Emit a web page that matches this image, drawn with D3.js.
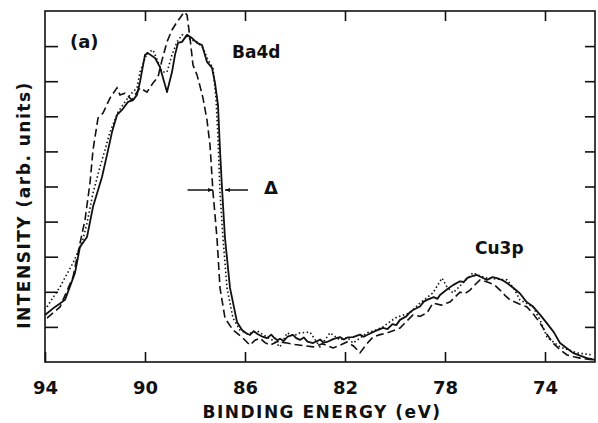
<!DOCTYPE html>
<html>
<head>
<meta charset="utf-8">
<script src="https://cdn.jsdelivr.net/npm/d3@7"></script>
<style>
  body { margin: 0; background: #fff; }
  text { font-family: "DejaVu Sans", "Liberation Sans", sans-serif; font-weight: bold; fill: #111; }
</style>
</head>
<body>
<div id="chart"></div>
<script>
// binding energy (eV) / intensity (arb. units, 0-10 frame divisions)
var solidE = [94.0, 93.6, 93.2, 92.8, 92.6, 92.32, 92.08, 91.72, 91.52, 91.32, 91.12, 90.92, 90.68, 90.48, 90.32, 90.2, 90.0, 89.88, 89.6, 89.4, 89.12, 88.92, 88.8, 88.68, 88.52, 88.32, 88.12, 87.92, 87.72, 87.52, 87.32, 87.2, 87.08, 87.0, 86.92, 86.8, 86.6, 86.32, 86.12, 85.95, 85.8, 85.65, 85.5, 85.3, 85.12, 84.95, 84.85, 84.7, 84.6, 84.45, 84.3, 84.08, 83.95, 83.8, 83.65, 83.5, 83.28, 83.1, 83.0, 82.85, 82.72, 82.45, 82.2, 82.05, 81.9, 81.68, 81.4, 81.25, 81.12, 80.8, 80.48, 80.3, 80.1, 79.95, 79.8, 79.55, 79.4, 79.28, 79.0, 78.85, 78.72, 78.45, 78.3, 78.2, 77.9, 77.68, 77.4, 77.25, 77.12, 76.9, 76.72, 76.5, 76.32, 76.1, 75.92, 75.7, 75.52, 75.25, 75.0, 74.75, 74.48, 74.2, 73.92, 73.65, 73.4, 73.1, 72.88, 72.6, 72.32, 72.0];
var solidI = [1.34, 1.57, 1.77, 2.54, 3.28, 3.56, 4.42, 5.27, 5.90, 6.55, 7.04, 7.18, 7.41, 7.46, 7.61, 7.98, 8.75, 8.80, 8.66, 8.40, 7.69, 8.26, 8.75, 9.09, 9.12, 9.32, 9.23, 9.09, 9.03, 8.55, 8.38, 7.95, 7.32, 6.04, 4.96, 3.53, 2.11, 1.14, 0.91, 0.82, 0.77, 0.88, 0.80, 0.72, 0.68, 0.78, 0.70, 0.62, 0.66, 0.60, 0.72, 0.77, 0.68, 0.63, 0.70, 0.58, 0.54, 0.60, 0.64, 0.55, 0.57, 0.66, 0.71, 0.64, 0.70, 0.71, 0.78, 0.72, 0.77, 0.88, 0.97, 0.94, 1.08, 1.05, 1.20, 1.30, 1.42, 1.48, 1.58, 1.72, 1.77, 1.85, 1.80, 1.91, 2.08, 2.19, 2.30, 2.28, 2.39, 2.45, 2.48, 2.40, 2.34, 2.42, 2.39, 2.33, 2.25, 2.10, 1.95, 1.72, 1.58, 1.35, 1.10, 0.85, 0.54, 0.38, 0.26, 0.18, 0.11, 0.06];

var dashE = [93.92, 93.4, 92.88, 92.68, 92.4, 92.2, 92.08, 91.88, 91.68, 91.4, 91.12, 91.0, 90.8, 90.52, 90.4, 90.2, 89.92, 89.68, 89.48, 89.32, 89.12, 88.92, 88.72, 88.6, 88.44, 88.32, 88.2, 88.08, 87.92, 87.8, 87.68, 87.52, 87.4, 87.28, 87.12, 87.0, 86.8, 86.48, 86.08, 85.8, 85.6, 85.4, 85.2, 85.0, 84.7, 84.32, 84.0, 83.6, 83.28, 82.9, 82.48, 82.2, 81.92, 81.65, 81.4, 81.15, 80.88, 80.6, 80.32, 80.05, 79.8, 79.55, 79.28, 79.0, 78.72, 78.48, 78.15, 77.8, 77.6, 77.4, 77.2, 77.0, 76.8, 76.6, 76.4, 76.2, 76.0, 75.8, 75.6, 75.4, 75.05, 74.72, 74.45, 74.2, 73.95, 73.68, 73.4, 73.12, 72.85, 72.6, 72.3, 72.0];
var dashI = [1.25, 1.57, 2.42, 3.11, 4.05, 5.10, 6.04, 6.95, 7.09, 7.52, 7.81, 7.61, 7.66, 7.46, 7.61, 7.81, 7.69, 7.95, 8.12, 8.60, 9.12, 9.46, 9.69, 9.80, 9.97, 9.89, 9.23, 8.46, 8.18, 7.86, 7.52, 6.89, 6.18, 4.84, 3.53, 2.11, 1.25, 0.91, 0.68, 0.48, 0.62, 0.68, 0.55, 0.48, 0.58, 0.54, 0.50, 0.46, 0.43, 0.52, 0.40, 0.48, 0.57, 0.45, 0.26, 0.50, 0.71, 0.78, 0.83, 0.90, 0.97, 1.15, 1.34, 1.30, 1.40, 1.68, 1.62, 1.71, 1.85, 1.99, 1.95, 2.05, 2.20, 2.34, 2.30, 2.25, 2.18, 2.05, 1.90, 1.77, 1.66, 1.57, 1.35, 1.11, 0.82, 0.54, 0.35, 0.20, 0.15, 0.11, 0.08, 0.06];

var dotE = [93.92, 93.4, 92.88, 92.52, 92.32, 92.08, 91.8, 91.6, 91.4, 91.08, 90.8, 90.6, 90.32, 90.2, 89.92, 89.68, 89.48, 89.32, 89.12, 88.92, 88.72, 88.52, 88.32, 88.12, 87.92, 87.68, 87.48, 87.28, 87.16, 87.08, 87.0, 86.88, 86.72, 86.48, 86.2, 85.9, 85.5, 85.12, 84.85, 84.6, 84.32, 84.05, 83.8, 83.4, 83.0, 82.6, 82.2, 81.9, 81.68, 81.4, 81.12, 80.8, 80.48, 80.2, 79.92, 79.4, 79.0, 78.48, 78.12, 77.92, 77.68, 77.28, 76.88, 76.6, 76.32, 75.9, 75.52, 75.25, 75.0, 74.48, 74.2, 73.92, 73.4, 72.72, 72.08];
var dotI = [1.57, 2.14, 2.82, 3.39, 3.96, 4.81, 5.56, 6.04, 6.55, 7.12, 7.41, 7.61, 7.81, 8.26, 8.80, 8.89, 8.55, 8.26, 8.26, 8.75, 9.12, 9.32, 9.26, 9.17, 9.12, 8.95, 8.60, 8.38, 7.52, 6.38, 4.84, 3.53, 2.11, 1.25, 0.91, 0.80, 0.88, 0.71, 0.60, 0.43, 0.83, 0.75, 0.83, 0.85, 0.43, 0.83, 0.63, 0.70, 0.54, 0.68, 0.83, 0.90, 1.00, 1.15, 1.28, 1.40, 1.68, 1.97, 2.39, 2.14, 1.97, 2.25, 2.54, 2.45, 2.39, 2.36, 2.34, 2.10, 1.77, 1.57, 1.20, 0.71, 0.43, 0.26, 0.20];

var xTicks = [94, 90, 86, 82, 78, 74];
var yTicks = [1, 2, 3, 4, 5, 6, 7, 8, 9];

var width = 598, height = 423;
var margin = {top: 11, right: 3, bottom: 61, left: 45};

var svg = d3.select("#chart")
    .append("svg")
    .attr("width", width)
    .attr("height", height);

var x = d3.scaleLinear()
    .domain([94, 72])
    .range([margin.left, width - margin.right]);

var y = d3.scaleLinear()
    .domain([0, 10])
    .range([height - margin.bottom, margin.top]);

function pairs(e, v) { return e.map(function(d, i) { return [d, v[i]]; }); }

var line = d3.line()
    .x(function(d) { return x(d[0]); })
    .y(function(d) { return y(d[1]); });

////////// frame and ticks //////////

svg.append("rect")
    .attr("x", x(94)).attr("y", y(10))
    .attr("width", x(72) - x(94)).attr("height", y(0) - y(10))
    .attr("fill", "none").attr("stroke", "#111").attr("stroke-width", 1.6);

// bottom axis, ticks pointing up
svg.append("g")
    .attr("transform", "translate(0," + y(0) + ")")
    .call(d3.axisBottom(x).tickValues(xTicks).tickSize(-10).tickPadding(19).tickFormat(d3.format("d")))
    .call(function(g) {
      g.select(".domain").remove();
      g.selectAll("line").attr("stroke", "#111").attr("stroke-width", 1.6);
      g.selectAll("text").style("font-size", "18px").attr("font-family", null).attr("fill", "#111");
    });

// top axis ticks
svg.append("g")
    .attr("transform", "translate(0," + y(10) + ")")
    .call(d3.axisTop(x).tickValues(xTicks.slice(1)).tickSize(-10).tickFormat(""))
    .call(function(g) {
      g.select(".domain").remove();
      g.selectAll("line").attr("stroke", "#111").attr("stroke-width", 1.6);
    });

// left and right ticks, inward
svg.append("g")
    .attr("transform", "translate(" + x(94) + ",0)")
    .call(d3.axisLeft(y).tickValues(yTicks).tickSize(-13).tickFormat(""))
    .call(function(g) {
      g.select(".domain").remove();
      g.selectAll("line").attr("stroke", "#111").attr("stroke-width", 1.6);
    });

svg.append("g")
    .attr("transform", "translate(" + x(72) + ",0)")
    .call(d3.axisRight(y).tickValues(yTicks).tickSize(-10).tickFormat(""))
    .call(function(g) {
      g.select(".domain").remove();
      g.selectAll("line").attr("stroke", "#111").attr("stroke-width", 1.6);
    });

////////// curves //////////

svg.append("path")
    .datum(pairs(solidE, solidI))
    .attr("d", line)
    .attr("fill", "none").attr("stroke", "#111").attr("stroke-width", 1.8)
    .attr("stroke-linejoin", "round");

svg.append("path")
    .datum(pairs(dashE, dashI))
    .attr("d", line)
    .attr("fill", "none").attr("stroke", "#111").attr("stroke-width", 1.6)
    .attr("stroke-dasharray", "8,4");

svg.append("path")
    .datum(pairs(dotE, dotI))
    .attr("d", line)
    .attr("fill", "none").attr("stroke", "#111").attr("stroke-width", 1.6)
    .attr("stroke-dasharray", "1.5,2.5");

////////// labels //////////

svg.append("text")
    .attr("x", 322).attr("y", 418)
    .attr("text-anchor", "middle")
    .style("font-size", "17px").style("letter-spacing", "1.5px")
    .text("BINDING ENERGY (eV)");

svg.append("text")
    .attr("transform", "translate(30," + 205 + ") rotate(-90)")
    .attr("text-anchor", "middle")
    .style("font-size", "17px").style("letter-spacing", "1.5px")
    .text("INTENSITY (arb. units)");

svg.append("text").attr("x", 70).attr("y", 48).style("font-size", "18px").text("(a)");
svg.append("text").attr("x", 232).attr("y", 58).style("font-size", "17px").text("Ba4d");
svg.append("text").attr("x", 475).attr("y", 254).style("font-size", "17px").text("Cu3p");
svg.append("text").attr("x", 264).attr("y", 194).style("font-size", "18px").text("Δ");

// delta arrows at the edge half height
var ay = y(4.9);
svg.append("defs").append("marker")
    .attr("id", "head").attr("viewBox", "0 0 10 10")
    .attr("refX", 10).attr("refY", 5)
    .attr("markerWidth", 8).attr("markerHeight", 5)
    .attr("markerUnits", "userSpaceOnUse")
    .attr("orient", "auto")
  .append("path").attr("d", "M0,1 L10,5 L0,9 Z").attr("fill", "#111");

svg.append("line")
    .attr("x1", x(88.3)).attr("x2", x(87.28))
    .attr("y1", ay).attr("y2", ay)
    .attr("stroke", "#111").attr("stroke-width", 1.5)
    .attr("marker-end", "url(#head)");

svg.append("line")
    .attr("x1", x(85.88)).attr("x2", x(86.8))
    .attr("y1", ay).attr("y2", ay)
    .attr("stroke", "#111").attr("stroke-width", 1.5)
    .attr("marker-end", "url(#head)");
</script>
</body>
</html>
